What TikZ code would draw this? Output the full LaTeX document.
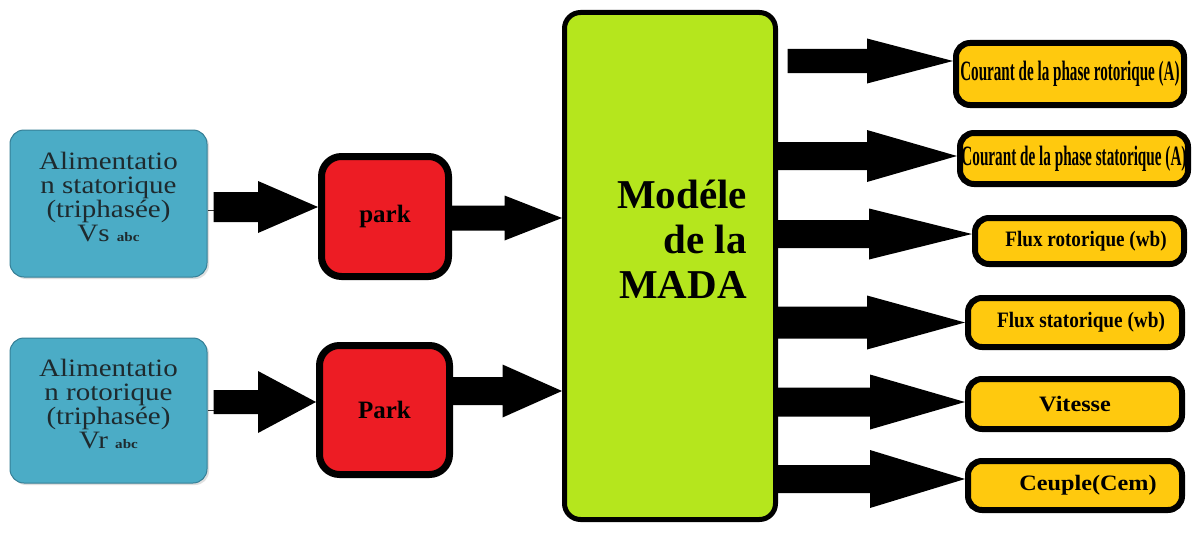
\documentclass[tikz,border=0pt]{standalone}
\usepackage{fontspec}
\usepackage{graphicx}
\setmainfont{Liberation Serif}
\newfontfamily\inserif[FakeStretch=1.16]{Liberation Serif}
\usetikzlibrary{calc,shadows}
\definecolor{boxblue}{HTML}{4BACC6}
\definecolor{boxblueedge}{HTML}{357F96}
\definecolor{parkred}{HTML}{ED1C24}
\definecolor{madagreen}{HTML}{B5E61D}
\definecolor{outyellow}{HTML}{FFC90E}
\definecolor{txtgray}{HTML}{1E2A2E}
% #1 start anchor, #2 tip, #3 start x offset, #4 shaft half width, #5 head length, #6 head half width
\newcommand{\fatarrow}[6]{%
  \coordinate (faT) at (#2);
  \coordinate (faS) at ($(#1 |- faT)+(#3,0)$);
  \coordinate (faH) at ($(faT)+(-#5,0)$);
  \fill[arrowfill] ($(faS)+(0,#4)$) -- ($(faH)+(0,#4)$) -- ($(faH)+(0,#6)$) -- (faT)
    -- ($(faH)+(0,-#6)$) -- ($(faH)+(0,-#4)$) -- ($(faS)+(0,-#4)$) -- cycle;
}
\tikzset{
  inbox/.style={draw=boxblueedge, line width=1pt, fill=boxblue, rounded corners=14pt,
    minimum width=197pt, inner sep=0pt, text=txtgray, align=center, text depth=14pt,
    font=\inserif\fontsize{25}{24}\selectfont,
    drop shadow={opacity=0.25, shadow xshift=2pt, shadow yshift=-2pt}},
  parkbox/.style={draw=black, line width=7pt, fill=parkred, rounded corners=20pt,
    inner sep=0pt, font=\bfseries\fontsize{25}{28}\selectfont},
  madabox/.style={draw=black, line width=5pt, fill=madagreen, rounded corners=16pt, inner sep=0pt},
  madatext/.style={align=right, inner sep=0pt, font=\bfseries\fontsize{41}{45}\selectfont},
  outbox/.style={draw=black, line width=6pt, fill=outyellow, rounded corners=14pt,
    inner sep=0pt, font=\bfseries},
  arrowfill/.style={fill=black},
  thinlink/.style={draw=black!80, line width=0.8pt},
}
\begin{document}
\begin{tikzpicture}[x=1pt,y=-1pt]
\fill[white] (0,0) rectangle (1196,535);
\useasboundingbox (0,0) rectangle (1196,535);

% input boxes
\node[inbox, minimum height=147pt] (b1) at (108.5,203.5)
  {Alimentatio\\n statorique\\(triphasée)\\Vs {\fontsize{13}{13}\selectfont\bfseries abc}};
\node[inbox, minimum height=145pt] (b2) at (108.5,410.5)
  {Alimentatio\\n rotorique\\(triphasée)\\Vr {\fontsize{13}{13}\selectfont\bfseries abc}};

% park boxes
\node[parkbox, minimum width=127pt, minimum height=120pt] (p1) at (385,216.5) {park};
\node[parkbox, minimum width=130pt, minimum height=129pt] (p2) at (384.5,410) {Park};

% model
\node[madabox, minimum width=211pt, minimum height=507pt] (m) at (670,266) {};
\node[madatext, anchor=east] (mt) at (747,239) {Modéle\\de la\\MADA};

% outputs
\node[outbox, minimum width=228pt, minimum height=62pt] (o1) at (1070,74)
  {\scalebox{0.54}[1]{\fontsize{28}{30}\selectfont Courant de la phase rotorique (A)}};
\node[outbox, minimum width=228pt, minimum height=51pt] (o2) at (1074,158.5)
  {\scalebox{0.543}[1]{\fontsize{28}{30}\selectfont Courant de la phase statorique (A)}};
\node[outbox, minimum width=209pt, minimum height=46pt] (o3) at (1079.5,241)
  {\hspace*{13pt}\scalebox{0.87}[1]{\fontsize{22}{24}\selectfont Flux rotorique (wb)}};
\node[outbox, minimum width=214pt, minimum height=49pt] (o4) at (1075,322.5)
  {\hspace*{12pt}\scalebox{0.875}[1]{\fontsize{22}{24}\selectfont Flux statorique (wb)}};
\node[outbox, minimum width=214pt, minimum height=50pt] (o5) at (1075,404)
  {\scalebox{1.1}[1]{\fontsize{22}{24}\selectfont Vitesse}};
\node[outbox, minimum width=214pt, minimum height=49pt] (o6) at (1075,485.5)
  {\hspace*{26pt}\scalebox{1.1}[1]{\fontsize{22}{24}\selectfont Ceuple(Cem)}};

% thin links from input boxes
\draw[thinlink] (b1.east |- 0,210) -- ++(8,0);
\draw[thinlink] (b2.east |- 0,410) -- ++(8,0);

% arrows
\fatarrow{b1.east}{$(p1.west)+(0,-9.5)$}{6}{15}{60}{26}
\fatarrow{b2.east}{$(p2.west)+(0,-8)$}{6}{12}{58}{31}
\fatarrow{p1.east}{$(m.west)+(0,-48)$}{0}{12.5}{57.5}{22.5}
\fatarrow{p2.east}{$(m.west)+(0,125)$}{0}{14}{59.5}{26.5}

\fatarrow{m.east}{$(o1.west)+(0,-13)$}{9.5}{12}{86}{22.5}
\fatarrow{m.east}{$(o2.west)+(0,-2.5)$}{0}{14}{90}{26}
\fatarrow{m.east}{$(o3.west)+(0,-7)$}{0}{14}{103}{25.5}
\fatarrow{m.east}{$(o4.west)+(0,0)$}{0}{16}{98}{27}
\fatarrow{m.east}{$(o5.west)+(0,-2)$}{-3.5}{14.5}{95}{27.5}
\fatarrow{m.east}{$(o6.west)+(0,-6.5)$}{0}{14}{95}{29}
\end{tikzpicture}
\end{document}
